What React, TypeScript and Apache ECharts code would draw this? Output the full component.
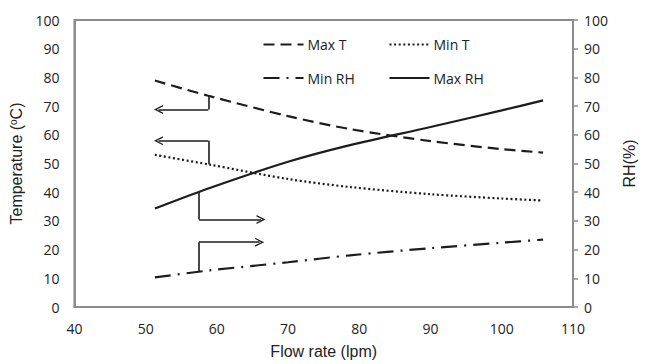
import React, { useEffect, useRef } from "react";
import * as echarts from "echarts";

const flowRate = [51.3, 58.8, 70, 78.7, 90, 100, 105.8];
const maxT = [78.9, 73.6, 66.5, 62.0, 57.8, 55.0, 53.8];
const minT = [53.0, 49.7, 44.6, 41.8, 39.3, 37.8, 37.1];
const minRH = [10.3, 12.7, 15.6, 18.0, 20.5, 22.4, 23.5];
const maxRH = [34.3, 41.3, 50.6, 56.4, 62.7, 68.5, 72.0];
const seriesNames = ["Max T", "Min T", "Min RH", "Max RH"];
const xTicks = [40, 50, 60, 70, 80, 90, 100, 110];
const yTicks = [0, 10, 20, 30, 40, 50, 60, 70, 80, 90, 100];

// annotation arrows: [start on curve, corner, arrow tip] in data units
const arrowMaxT = [[58.8, 73.6], [58.8, 68.8], [51.8, 68.8]];
const arrowMinT = [[58.8, 49.7], [58.8, 57.9], [51.8, 57.9]];
const arrowMaxRH = [[57.5, 40.1], [57.5, 30.5], [66.2, 30.5]];
const arrowMinRH = [[57.5, 12.3], [57.5, 22.6], [66.0, 22.6]];

const AXIS_GRAY = "#8c8c8c";
const INK = "#1c1c1c";
const TEXT = "#222222";
const CHEVRON = "path://M5,0 L10,9 L8.4,9 L5,2.8 L1.6,9 L0,9 Z";

const DASH_MAXT = [11, 6];
const DASH_MINT = [2, 2.6];
const DASH_MINRH = [16, 7, 2, 7];

function pairs(xs: number[], ys: number[]) {
  return xs.map((x, i) => [x, ys[i]]);
}

function arrowSeries(pts: number[][], yIdx: number) {
  return {
    type: "lines",
    coordinateSystem: "cartesian2d",
    xAxisIndex: 0,
    yAxisIndex: yIdx,
    silent: true,
    z: 5,
    lineStyle: { color: INK, width: 1.6, opacity: 1 },
    symbol: ["none", "none"],
    data: [
      { coords: [pts[0], pts[1]] },
      {
        coords: [pts[1], pts[2]],
        symbol: ["none", CHEVRON],
        symbolSize: [10, 9],
      },
    ],
  };
}

function legendItem(name: string, left: number, y: number, dash: number[] | null) {
  return {
    type: "group",
    left,
    top: y - 9,
    children: [
      {
        type: "line",
        shape: { x1: 0, y1: 9, x2: 40, y2: 9 },
        style: { stroke: INK, lineWidth: 2.2, lineDash: dash || undefined },
      },
      {
        type: "text",
        x: 44,
        y: 9,
        style: {
          text: name,
          fill: TEXT,
          fontSize: 14,
          fontFamily: "Open Sans",
          verticalAlign: "middle",
          align: "left",
        },
      },
    ],
  };
}

export default function App() {
  const ref = useRef<HTMLDivElement>(null);
  useEffect(() => {
    document.body.style.margin = "0";
    if (!ref.current) return;
    const chart = echarts.init(ref.current, null, { renderer: "svg" });
    const labelStyle = { color: TEXT, fontSize: 14, fontFamily: "Open Sans" };
    chart.setOption({
      animation: false,
      color: [INK, INK, INK, INK],
      grid: {
        left: 72,
        right: 71,
        top: 20,
        bottom: 52,
        show: true,
        borderColor: AXIS_GRAY,
        borderWidth: 2,
        backgroundColor: "transparent",
      },
      graphic: [
        legendItem(seriesNames[0], 261, 46.5, DASH_MAXT),
        legendItem(seriesNames[1], 387, 46.5, DASH_MINT),
        legendItem(seriesNames[2], 261, 80, DASH_MINRH),
        legendItem(seriesNames[3], 387, 80, null),
      ],
      xAxis: {
        type: "value",
        min: 40,
        max: 110,
        interval: 10,
        name: "Flow rate (lpm)",
        nameLocation: "middle",
        nameGap: 36,
        nameTextStyle: { color: TEXT, fontSize: 16, fontFamily: "Liberation Sans" },
        axisLine: { show: true, lineStyle: { color: AXIS_GRAY, width: 2 } },
        axisTick: { show: false },
        splitLine: { show: false },
        axisLabel: {
          ...labelStyle,
          margin: 14,
          formatter: (v: number) => (xTicks.includes(v) ? String(v) : ""),
        },
      },
      yAxis: [
        {
          type: "value",
          min: 0,
          max: 100,
          interval: 10,
          position: "left",
          name: "Temperature ({sup|o}C)",
          nameLocation: "middle",
          nameGap: 44,
          nameRotate: 90,
          nameTextStyle: {
            color: TEXT,
            fontSize: 16,
            fontFamily: "Liberation Sans",
            rich: {
              sup: { fontSize: 10, fontFamily: "Liberation Sans", color: TEXT, padding: [0, 0, 7, 0] },
            },
          },
          axisLine: { show: true, lineStyle: { color: AXIS_GRAY, width: 2 } },
          axisTick: { show: false },
          splitLine: { show: false },
          axisLabel: {
            ...labelStyle,
            margin: 15,
            formatter: (v: number) => (yTicks.includes(v) ? String(v) : ""),
          },
        },
        {
          type: "value",
          min: 0,
          max: 100,
          interval: 10,
          position: "right",
          name: "RH(%)",
          nameLocation: "middle",
          nameGap: 48,
          nameRotate: 90,
          nameTextStyle: { color: TEXT, fontSize: 16, fontFamily: "Liberation Sans" },
          axisLine: { show: true, lineStyle: { color: AXIS_GRAY, width: 2 } },
          axisTick: { show: true, inside: false, length: 5, lineStyle: { color: AXIS_GRAY, width: 1.5 } },
          splitLine: { show: false },
          axisLabel: {
            ...labelStyle,
            margin: 11,
            formatter: (v: number) => (yTicks.includes(v) ? String(v) : ""),
          },
        },
      ],
      series: [
        {
          name: seriesNames[0],
          type: "line",
          yAxisIndex: 0,
          smooth: 0.3,
          showSymbol: false,
          color: INK,
          data: pairs(flowRate, maxT),
          lineStyle: { color: INK, width: 2.2, type: DASH_MAXT },
        },
        {
          name: seriesNames[1],
          type: "line",
          yAxisIndex: 0,
          smooth: 0.3,
          showSymbol: false,
          color: INK,
          data: pairs(flowRate, minT),
          lineStyle: { color: INK, width: 2.2, type: DASH_MINT },
        },
        {
          name: seriesNames[2],
          type: "line",
          yAxisIndex: 1,
          smooth: 0.3,
          showSymbol: false,
          color: INK,
          data: pairs(flowRate, minRH),
          lineStyle: { color: INK, width: 2.2, type: DASH_MINRH },
        },
        {
          name: seriesNames[3],
          type: "line",
          yAxisIndex: 1,
          smooth: 0.3,
          showSymbol: false,
          color: INK,
          data: pairs(flowRate, maxRH),
          lineStyle: { color: INK, width: 2.2 },
        },
        arrowSeries(arrowMaxT, 0),
        arrowSeries(arrowMinT, 0),
        arrowSeries(arrowMaxRH, 1),
        arrowSeries(arrowMinRH, 1),
      ],
    });
    return () => chart.dispose();
  }, []);
  return <div ref={ref} style={{ width: 645, height: 364 }} />;
}
